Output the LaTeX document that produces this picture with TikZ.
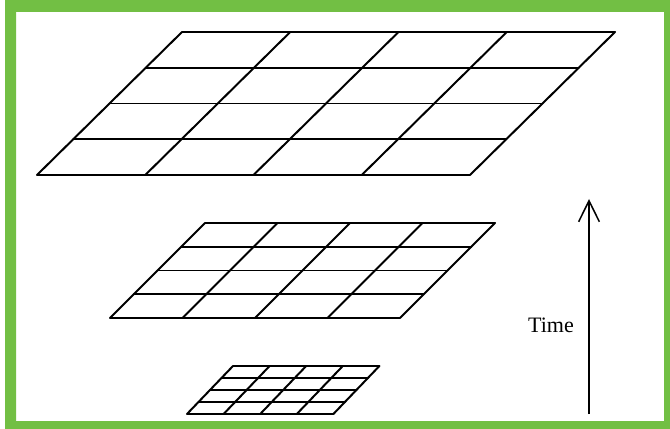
\documentclass[tikz,border=0pt]{standalone}
\usepackage{fontspec}
\setmainfont{Liberation Serif}
\usetikzlibrary{arrows.meta}

\definecolor{framegreen}{RGB}{114,191,68}

\begin{document}
\begin{tikzpicture}[
    x=0.03cm,
    y=-0.03cm,
    gridline/.style={
        line width=1.7pt,
        line cap=round,
        line join=round
    },
    timearrow/.style={
        line width=1.3pt,
        -{Straight Barb[length=0.63cm, width=0.62cm]}
    },
    timelabel/.style={
        anchor=base east,
        inner sep=0pt,
        font=\fontsize{18.8}{20}\selectfont
    }
]

\useasboundingbox (0,0) rectangle (670,429);
\fill[white] (0,0) rectangle (670,429);
\fill[framegreen, even odd rule] (5,0) rectangle (670,429) (16,12) rectangle (664,421);

\foreach \gx/\gy/\gw/\gh/\gs in {37/175/108.25/143/145, 110/318/72.5/95/95, 187/414/36.6/48/46} {
    \foreach \i in {0,...,4} {
        \draw[gridline] (\gx+\gs*\i/4, \gy-\gh*\i/4) -- ++(4*\gw,0);
        \draw[gridline] (\gx+\i*\gw, \gy) -- ++(\gs,-\gh);
    }
}

\coordinate (time_start) at (589,414);
\coordinate (time_end) at (589,199);
\draw[timearrow] (time_start) -- (time_end);

\node[timelabel] (time_label) at (574,332) {Time};

\end{tikzpicture}
\end{document}
